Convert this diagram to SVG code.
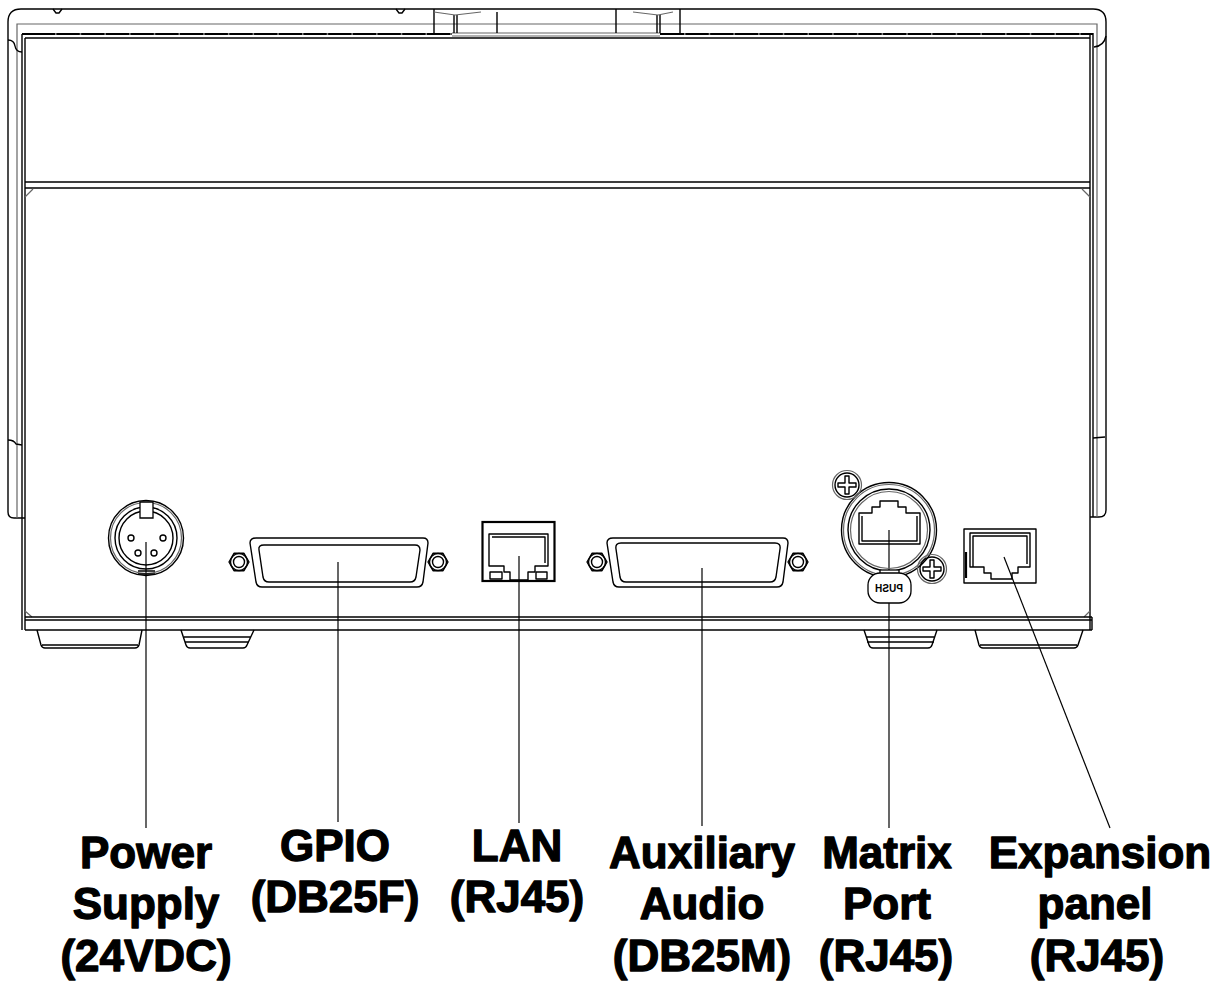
<svg xmlns="http://www.w3.org/2000/svg" width="1232" height="986" viewBox="0 0 1232 986">
<style>
.l{fill:none;stroke:#000;stroke-width:1.4;stroke-linejoin:round}
.k{fill:none;stroke:#000;stroke-width:2.2}
.g{fill:none;stroke:#666;stroke-width:1.2}
.w{fill:#fff;stroke:#000;stroke-width:1.3}
.t{font-family:"Liberation Sans",Arial,sans-serif;font-weight:bold;font-size:44px;text-anchor:middle;fill:#000;stroke:#000;stroke-width:1.3;stroke-linejoin:round}
.p{font-family:"Liberation Sans",Arial,sans-serif;font-weight:bold;font-size:10px;text-anchor:middle;fill:#000}
.c{fill:none;stroke:#000;stroke-width:1.2}
</style>
<defs>
<g id="nut"><polygon class="l" points="10,0 5,8.7 -5,8.7 -10,0 -5,-8.7 5,-8.7"/><circle class="l" r="8.5"/><circle class="l" r="5.5"/></g>
<g id="screw"><circle class="g" r="14.5"/><circle class="l" r="12"/><path class="l" d="M-2,-9h4v7h7v4h-7v7h-4v-7h-7v-4h7z"/></g>
</defs>
<rect width="1232" height="986" fill="#fff"/>
<g id="housing">
<path class="l" d="M25,518 L14,518 Q8,518 8,512 L8,22 Q8,9 21,9 L1093,9 Q1106,9 1106,22 L1106,510 Q1106,517 1099,517 L1090,517"/>
<path class="g" d="M17,518 L17,24 L1097,24 L1097,517"/>
<path class="l" d="M8,40 Q14,40 15,46 Q16,52 22,52 M8,440 Q14,440 16,444 L22,445 M1106,36 Q1104,46 1094,47 M1093,438 L1105,437"/>
<path class="l" d="M22,34 L22,630 M25,38 L25,630 M1090,33 L1090,630 M1093,33 L1093,517"/>
<path class="k" stroke-width="3" d="M22,34 L452,34 M660,34 L1093,34"/>
<path fill="none" stroke="#fff" stroke-width="1.2" stroke-dasharray="1.5 23.2" d="M55,34 L452 34 M684,34 L1093,34"/>
<path class="g" d="M452,33 L660,33 M452,36 L660,36"/>
<path class="l" d="M25,38 L1090,38"/>
<path class="l" d="M434,9 L434,33 M616,9 L616,33 M680,9 L680,33 M497,12 L497,33 M454,15 L454,33 M457,15 L457,33 M657,15 L657,33 M660,15 L660,33"/>
<path class="g" d="M434,12 L455,15 L481,12 M633,12 L658,15 L673,12"/>
<path class="l" d="M53,9 L56,13 L59,13 L62,9 M396,9 L399,13 L402,13 L405,9"/>
<path class="l" d="M25,182 L1090,182 M25,188 L1090,188"/>
<path class="g" d="M25,197 L33,189 M1090,197 L1082,189"/>
<path class="g" d="M25,611 L32,617 M1090,611 L1084,617"/>
<path class="l" d="M25,617 L1092,617 M25,620 L1092,620 M25,630 L1092,630 M1092,617 L1092,630"/>
<path class="l" d="M37,630 L41,645 Q42,648 45,648 L135,648 Q138,648 139,645 L142,630 M42,645 L138,645"/>
<path class="l" d="M181,630 L186,645 Q187,648 190,648 L243,648 Q246,648 247,645 L254,630 M184,637 L251,637 M185,642 L249,642"/>
<path class="l" d="M864,630 L869,645 Q870,648 873,648 L928,648 Q931,648 932,645 L937,630 M866,637 L935,637 M867,642 L934,642"/>
<path class="l" d="M975,630 L979,645 Q980,648 983,648 L1074,648 Q1077,648 1078,645 L1083,630 M980,645 L1077,645"/>
</g>
<g id="connectors">
<path class="c" d="M146,542 L146,828"/>
<path class="c" d="M338,562 L338,822"/>
<path class="c" d="M519,556 L519,823"/>
<path class="c" d="M702,568 L702,826"/>
<path class="c" d="M889,530 L889,828"/>
<path class="c" d="M1004,557 L1110,828"/>
</g>
<g id="power-supply">
<circle class="l" cx="146" cy="538" r="37.5"/>
<circle class="g" cx="146" cy="538" r="35.5"/>
<circle class="l" cx="146" cy="538" r="31"/>
<circle class="l" cx="146" cy="538" r="27"/>
<path class="w" d="M140,502 L153,502 L153,518 L140,518 Z"/>
<path class="l" d="M138,571 L155,571 M138,574 L155,574"/>
<circle class="l" cx="131" cy="538" r="3"/>
<circle class="l" cx="163" cy="538" r="3"/>
<circle class="l" cx="138" cy="553" r="3"/>
<circle class="l" cx="154" cy="553" r="3"/>
<text class="t" x="146" y="868">Power</text>
<text class="t" x="146" y="919">Supply</text>
<text class="t" x="146" y="971">(24VDC)</text>
</g>
<g id="gpio">
<path class="l" d="M256,538 L423,538 Q428,538 428,543 L423,582 Q422,587 417,587 L262,587 Q257,587 256,582 L250,543 Q250,538 256,538 Z"/>
<path class="l" d="M264,545 L415,545 Q420,545 420,550 L416,577 Q415,582 410,582 L269,582 Q264,582 263,577 L259,550 Q258,545 264,545 Z"/>
<use href="#nut" x="239" y="562"/>
<use href="#nut" x="438" y="562"/>
<text class="t" x="335" y="861">GPIO</text>
<text class="t" x="335" y="912">(DB25F)</text>
</g>
<g id="lan">
<rect class="k" x="482.5" y="522" width="72" height="59"/>
<path class="l" d="M489,534 L548,534 L548,566 L535,566 L535,572 L528,572 L528,580 L510,580 L510,572 L504,572 L504,566 L489,566 Z"/>
<path class="l" d="M492,537 L545,537 L545,563"/>
<rect class="l" x="490" y="572" width="12" height="7"/>
<rect class="l" x="536" y="572" width="11" height="7"/>
<text class="t" x="517" y="861">LAN</text>
<text class="t" x="517" y="912">(RJ45)</text>
</g>
<g id="auxiliary-audio">
<path class="l" d="M613,538 L783,538 Q788,538 788,543 L783,582 Q782,587 777,587 L619,587 Q614,587 613,582 L607,543 Q607,538 613,538 Z"/>
<path class="l" d="M621,543 L775,543 Q781,543 780,549 L776,577 Q775,582 770,582 L626,582 Q621,582 620,577 L616,549 Q615,543 621,543 Z"/>
<use href="#nut" x="597" y="562"/>
<use href="#nut" x="798" y="562"/>
<text class="t" x="702" y="868">Auxiliary</text>
<text class="t" x="702" y="919">Audio</text>
<text class="t" x="702" y="971">(DB25M)</text>
</g>
<g id="matrix-port">
<circle class="l" cx="889" cy="530" r="47.5"/>
<circle class="g" cx="889" cy="530" r="45.5"/>
<circle class="l" cx="889" cy="530" r="41"/>
<circle class="g" cx="889" cy="530" r="38.5"/>
<path class="l" d="M859,513 L872,513 L872,507 L880,507 L880,501 L898,501 L898,507 L906,507 L906,513 L920,513 L920,544 L859,544 Z"/>
<path class="l" d="M862,516 L862,541 L917,541 L917,516"/>
<use href="#screw" x="847" y="485"/>
<use href="#screw" x="932" y="569"/>
<rect class="w" x="880" y="570" width="19" height="5"/>
<rect class="w" x="868" y="573" width="43" height="30" rx="12"/>
<text class="p" transform="translate(889,592) scale(-1,1)">PUSH</text>
<text class="t" x="887" y="868">Matrix</text>
<text class="t" x="887" y="919">Port</text>
<text class="t" x="886" y="971">(RJ45)</text>
</g>
<g id="expansion-panel">
<rect class="l" x="964" y="529" width="72" height="54" stroke-width="1.8"/>
<path class="k" d="M966,552 L966,578"/>
<path class="l" d="M970,533 L1030,533 L1030,567 L1018,567 L1018,573 L1012,573 L1012,579 L991,579 L991,573 L984,573 L984,567 L970,567 Z"/>
<path class="l" d="M973,567 L973,536 L1027,536 L1027,564"/>
<text class="t" x="1100" y="868">Expansion</text>
<text class="t" x="1095" y="919">panel</text>
<text class="t" x="1097" y="971">(RJ45)</text>
</g>
</svg>
